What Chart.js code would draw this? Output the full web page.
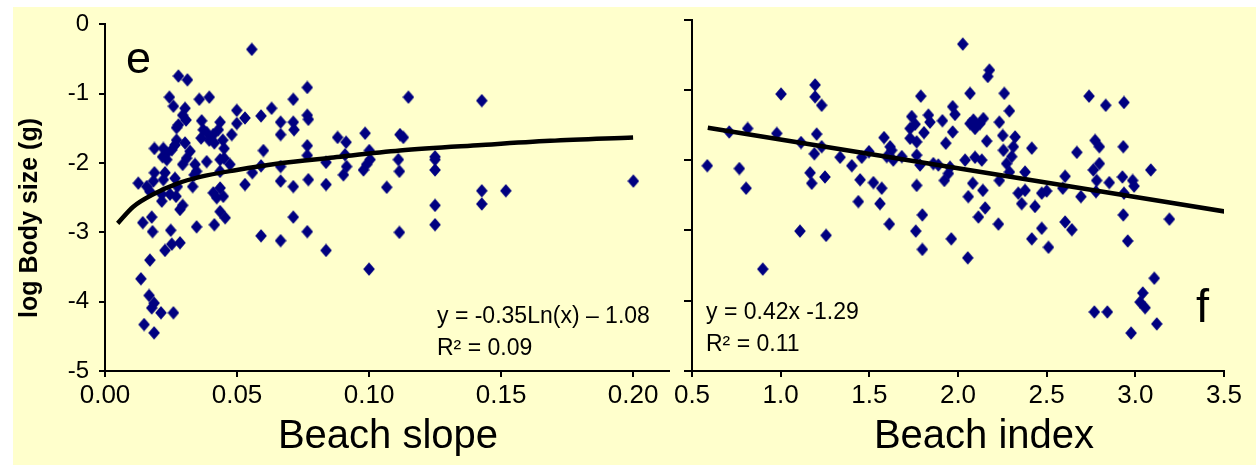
<!DOCTYPE html>
<html>
<head>
<meta charset="utf-8">
<script src="https://cdn.jsdelivr.net/npm/chart.js@4.4.0/dist/chart.umd.min.js"></script>
<style>
  html, body { margin: 0; padding: 0; background: #fff; }
  #stage { position: relative; width: 1256px; height: 465px; overflow: hidden; }
  #bg { position: absolute; left: 13px; top: 7px; right: 0; bottom: 0; background: #FFFFCC; }
  canvas { position: absolute; top: 0; }
  #slopeChart { left: 0; }
  #indexChart { left: 630px; }
</style>
</head>
<body>
<div id="stage">
  <div id="bg"></div>
  <canvas id="slopeChart" width="680" height="465"></canvas>
  <canvas id="indexChart" width="626" height="465"></canvas>
</div>
<script>
// Panel e : beach slope vs log body size
const slopeX = [0.0556, 0.0278, 0.0312, 0.0244, 0.0357, 0.0395, 0.0259, 0.0303, 0.0294, 0.0307, 0.0278, 0.0271,
  0.0766, 0.0713, 0.0631, 0.0499, 0.0530, 0.0591, 0.0766, 0.0770, 0.0665, 0.0499, 0.0713, 0.0716, 0.0665,
  0.0366, 0.0372, 0.0436, 0.0429, 0.0385, 0.0364, 0.0395, 0.0410, 0.0480, 0.0414, 0.0446, 0.0451,
  0.1149, 0.1117, 0.1130, 0.0985, 0.0881, 0.0913, 0.0766, 0.0600, 0.0909, 0.1001, 0.0766, 0.1004, 0.1111,
  0.0991, 0.0837, 0.0915, 0.0903, 0.0979, 0.1115, 0.0770, 0.0837, 0.1067, 0.0665, 0.0665, 0.0713, 0.0591,
  0.0558, 0.0530, 0.0713, 0.0766, 0.0591, 0.0665, 0.1115, 0.0385, 0.0436, 0.0451, 0.0473, 0.0436, 0.0341,
  0.0309, 0.0294, 0.0347, 0.0338, 0.0332, 0.0303, 0.0271, 0.0265, 0.0322, 0.0253, 0.0187, 0.0221, 0.0234,
  0.0218, 0.0234, 0.0187, 0.0227, 0.0221, 0.0265, 0.0274, 0.0126, 0.0158, 0.0170, 0.0183, 0.0215, 0.0215,
  0.0246, 0.0269, 0.0294, 0.0284, 0.0143, 0.0177, 0.0180, 0.0249, 0.0347, 0.0414, 0.0436, 0.0455, 0.0410,
  0.0423, 0.0436, 0.0448, 0.0284, 0.0253, 0.0227, 0.0170, 0.0136, 0.0167, 0.0186, 0.0177, 0.0212, 0.0259,
  0.0148, 0.0186, 0.0837, 0.1000, 0.1427, 0.1250, 0.1250, 0.1250, 0.1427, 0.1518, 0.1427, 0.1250, 0.1250,
  0.2001];
const slopeY = [-0.36, -0.745, -0.80, -1.05, -1.08, -1.05, -1.18, -1.21, -1.31, -1.38, -1.45, -1.49,
  -0.91, -1.08, -1.21, -1.24, -1.35, -1.32, -1.31, -1.37, -1.41, -1.43, -1.41, -1.52, -1.59,
  -1.39, -1.52, -1.41, -1.52, -1.56, -1.64, -1.67, -1.59, -1.59, -1.71, -1.67, -1.79,
  -1.05, -1.59, -1.63, -1.57, -1.63, -1.70, -1.75, -1.82, -1.88, -1.82, -1.89, -1.95, -1.95,
  -2.02, -1.99, -2.05, -2.17, -2.10, -2.12, -2.24, -2.31, -2.35, -2.05, -2.26, -2.34, -2.04,
  -2.14, -2.31, -2.78, -2.99, -3.05, -3.12, -3.00, -1.98, -1.95, -1.93, -2.02, -2.12, -2.02,
  -1.93, -2.02, -2.12, -2.17, -2.34, -1.71, -1.67, -1.74, -1.83, -1.81, -1.79, -1.79, -1.86,
  -1.91, -1.95, -2.14, -2.14, -2.24, -2.22, -2.34, -2.29, -2.34, -2.41, -2.26, -2.45, -2.55,
  -2.45, -2.48, -2.61, -2.67, -2.86, -2.78, -2.99, -2.97, -2.92, -2.89, -2.70, -2.79, -2.43,
  -2.50, -2.36, -2.48, -3.15, -3.17, -3.26, -3.40, -3.67, -3.91, -4.02, -4.09, -4.16, -4.16,
  -4.33, -4.45, -3.26, -3.53, -1.10, -1.91, -1.95, -2.10, -2.40, -2.40, -2.59, -2.61, -2.89,
  -2.26];
// log trend curve as drawn
const slopeFitX = [0.0048, 0.0107, 0.0183, 0.0271, 0.036, 0.0499, 0.065, 0.0865, 0.1117, 0.1427, 0.1686, 0.2];
const slopeFitY = [-2.87, -2.63, -2.45, -2.30, -2.20, -2.10, -2.01, -1.92, -1.82, -1.74, -1.68, -1.63];

// Panel f : beach index vs log body size
const indexX = [2.027, 1.194, 1.002, 1.194, 1.231, 1.790, 2.068, 1.739, 1.730, 1.758, 1.833, 1.842, 1.912,
  1.970, 1.983, 1.808, 1.730, 1.767, 1.970, 1.931, 2.068, 2.096, 0.710, 0.814, 0.978, 1.115, 1.203, 1.231,
  1.190, 1.335, 1.401, 1.457, 1.498, 1.583, 1.617, 1.598, 1.635, 1.683, 1.767, 1.786, 1.861, 1.889, 1.955,
  1.946, 1.923, 2.040, 2.083, 2.058, 2.115, 0.586, 0.767, 0.805, 1.166, 1.175, 1.250, 1.448, 1.523, 1.570,
  1.438, 1.560, 1.613, 1.767, 1.799, 1.762, 1.109, 1.256, 1.962, 0.899, 1.799, 2.055, 2.177, 2.168, 2.261,
  2.290, 2.739, 2.833, 2.936, 2.087, 2.124, 2.143, 2.233, 2.252, 2.162, 2.322, 2.256, 2.312, 2.303, 2.416,
  2.274, 2.290, 2.378, 2.140, 2.233, 2.153, 2.228, 2.340, 2.378, 2.359, 2.434, 2.472, 2.500, 2.472, 2.416,
  2.604, 2.591, 2.604, 2.642, 2.670, 2.693, 2.773, 2.797, 2.797, 2.763, 2.782, 2.778, 2.853, 2.932, 2.927,
  2.985, 2.993, 2.936, 3.087, 2.932, 3.192, 2.957, 2.510, 3.107, 3.042, 3.027, 3.055, 2.769, 2.842, 3.121,
  2.976, 2.096, 2.134, 1.626];
const indexY = [-0.35, -0.93, -1.06, -1.10, -1.22, -1.09, -1.05, -1.38, -1.55, -1.49, -1.36, -1.46, -1.44,
  -1.24, -1.35, -1.61, -1.69, -1.74, -1.60, -1.76, -1.48, -1.55, -1.60, -1.55, -1.62, -1.75, -1.63, -1.81,
  -1.91, -1.96, -2.08, -1.96, -1.88, -1.68, -1.81, -1.95, -2.00, -1.95, -1.93, -2.07, -2.05, -2.07, -2.10,
  -2.19, -2.29, -2.00, -2.33, -2.52, -2.81, -2.08, -2.12, -2.40, -2.18, -2.33, -2.24, -2.28, -2.32, -2.40,
  -2.59, -2.62, -2.91, -2.36, -2.78, -3.01, -3.01, -3.07, -3.12, -3.55, -3.27, -3.39, -0.72, -0.81, -1.05,
  -1.30, -1.09, -1.22, -1.18, -1.43, -1.48, -1.41, -1.46, -1.65, -1.73, -1.67, -1.86, -1.81, -1.95, -1.83,
  -2.05, -2.17, -2.17, -2.43, -2.29, -2.68, -2.91, -2.47, -2.43, -2.62, -2.66, -2.47, -2.44, -2.97, -3.12,
  -2.23, -2.40, -2.88, -2.99, -1.89, -2.52, -1.72, -1.81, -2.05, -2.14, -2.29, -2.45, -2.32, -1.81, -2.24,
  -2.29, -2.37, -2.47, -2.14, -2.78, -2.84, -3.15, -3.24, -3.68, -3.89, -4.02, -4.10, -4.16, -4.16, -4.33,
  -4.46, -1.96, -2.00, -1.86];
const indexFitX = [0.589, 3.502];
const indexFitY = [-1.54, -2.73];

const sizeTicks = [0, -1, -2, -3, -4, -5];
const slopeTicks = [0, 0.05, 0.10, 0.15, 0.20];
const indexTicks = [0.5, 1.0, 1.5, 2.0, 2.5, 3.0, 3.5];

const FONT = '"Liberation Sans", Arial, sans-serif';
const NAVY = '#000080';

// slightly tall diamond marker
function diamond() {
    const c = document.createElement('canvas');
    c.width = 12; c.height = 14;
    const g = c.getContext('2d');
    g.fillStyle = NAVY;
    g.beginPath();
    g.moveTo(6, 0.2); g.lineTo(11.8, 7); g.lineTo(6, 13.8); g.lineTo(0.2, 7);
    g.closePath(); g.fill();
    return c;
}
const marker = diamond();

const pairs = (xs, ys) => xs.map((x, i) => ({ x: x, y: ys[i] }));

function textLayer(items) {
    return {
        id: 'textLayer',
        afterDraw(chart) {
            const ctx = chart.ctx;
            items.forEach(t => {
                ctx.save();
                ctx.fillStyle = '#000';
                ctx.font = (t.bold ? 'bold ' : '') + t.size + 'px ' + FONT;
                ctx.textAlign = t.align || 'left';
                ctx.textBaseline = t.baseline || 'alphabetic';
                ctx.translate(t.x, t.y);
                if (t.rotate) ctx.rotate(t.rotate);
                ctx.fillText(t.text, 0, 0);
                ctx.restore();
            });
        }
    };
}

function axisX(min, max, ticks, digits, h) {
    return {
        type: 'linear', min: min, max: max,
        afterBuildTicks: s => { s.ticks = ticks.map(v => ({ value: v })); },
        afterFit: s => { s.height = h; },
        ticks: { callback: v => Number(v).toFixed(digits), font: { family: FONT, size: 26 }, color: '#000', padding: 3, maxRotation: 0, autoSkip: false },
        grid: { drawOnChartArea: false, drawTicks: true, tickLength: 6, color: '#000', lineWidth: 2 },
        border: { display: true, color: '#000', width: 2 }
    };
}

function axisY(w, showLabels) {
    return {
        min: -5, max: 0,
        afterBuildTicks: s => { s.ticks = sizeTicks.map(v => ({ value: v })); },
        afterFit: s => { s.width = w; },
        ticks: { display: showLabels, callback: v => String(v), font: { family: FONT, size: 24 }, color: '#000', padding: 10 },
        grid: { drawOnChartArea: false, drawTicks: true, tickLength: showLabels ? 6 : 8, color: '#000', lineWidth: 2 },
        border: { display: true, color: '#000', width: 2 }
    };
}

function scatterSet(xs, ys) {
    return { data: pairs(xs, ys), pointStyle: marker, pointRadius: 6, order: 1 };
}

function fitSet(xs, ys) {
    return { data: pairs(xs, ys), showLine: true, borderColor: '#000', borderWidth: 4.5, pointRadius: 0,
             cubicInterpolationMode: 'monotone', fill: false, order: 0 };
}

const common = {
    responsive: false,
    animation: false,
    events: [],
    plugins: { legend: { display: false }, tooltip: { enabled: false } }
};

new Chart(document.getElementById('slopeChart'), {
    type: 'scatter',
    data: { datasets: [scatterSet(slopeX, slopeY), fitSet(slopeFitX, slopeFitY)] },
    options: Object.assign({}, common, {
        layout: { padding: { top: 22, right: 11, bottom: 0, left: 0 } },
        scales: { x: axisX(0, 0.2136, slopeTicks, 2, 94), y: axisY(105, true) }
    }),
    plugins: [textLayer([
        { text: 'e', x: 126, y: 73, size: 45 },
        { text: 'y = -0.35Ln(x) \u2013 1.08', x: 437, y: 323, size: 23 },
        { text: 'R\u00b2 = 0.09', x: 437, y: 355, size: 23 },
        { text: 'log Body size (g)', x: 30, y: 218, size: 25, bold: true, align: 'center', baseline: 'middle', rotate: -Math.PI / 2 },
        { text: 'Beach slope', x: 388, y: 448, size: 40, align: 'center' }
    ])]
});

new Chart(document.getElementById('indexChart'), {
    type: 'scatter',
    data: { datasets: [scatterSet(indexX, indexY), fitSet(indexFitX, indexFitY)] },
    options: Object.assign({}, common, {
        layout: { padding: { top: 19.5, right: 32, bottom: 0, left: 0 } },
        scales: { x: axisX(0.5, 3.5, indexTicks, 1, 94), y: axisY(62, false) }
    }),
    plugins: [textLayer([
        { text: 'f', x: 566, y: 322, size: 47 },
        { text: 'y = 0.42x -1.29', x: 76, y: 319, size: 23 },
        { text: 'R\u00b2 = 0.11', x: 76, y: 351, size: 23 },
        { text: 'Beach index', x: 354, y: 448, size: 40, align: 'center' }
    ])]
});
</script>
</body>
</html>
